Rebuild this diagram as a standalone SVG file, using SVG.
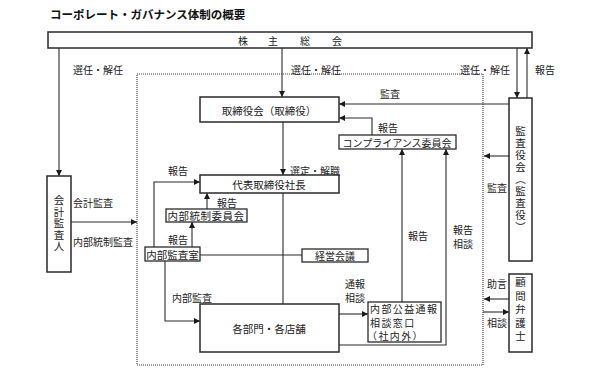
<svg xmlns="http://www.w3.org/2000/svg" width="598" height="379" viewBox="0 0 598 379">
<style>
text{font-family:"Noto Sans CJK JP","Noto Sans CJK SC",sans-serif;font-size:10px;fill:#222;dominant-baseline:central}
.title{font-size:11.5px;font-weight:bold;fill:#111}
.box{fill:#fff;stroke:#2a2a2a;stroke-width:1.5}
.sbox{fill:#fff;stroke:#2a2a2a;stroke-width:1.3}
.c{fill:none;stroke:#2a2a2a;stroke-width:1.1}
.a{marker-end:url(#ah)}
.dot{fill:none;stroke:#444;stroke-width:1.2;stroke-dasharray:1 1}
.m{text-anchor:middle}
.in{font-size:10.5px}
.v{writing-mode:vertical-rl;text-anchor:middle;font-size:10.5px}
</style>
<defs>
<marker id="ah" viewBox="0 0 10 10" refX="10" refY="5" markerWidth="7" markerHeight="6" orient="auto" markerUnits="userSpaceOnUse">
<path d="M0,0 L10,5 L0,10 z" fill="#1a1a1a"/>
</marker>
</defs>
<rect width="598" height="379" fill="#fff"/>
<text class="title" x="50" y="14">コーポレート・ガバナンス体制の概要</text>

<rect class="dot" x="137" y="74" width="346" height="291"/>

<g id="connectors">
<path class="c a" d="M59,48 V176"/>
<path class="c a" d="M282,48 V97"/>
<path class="c a" d="M517,48 V98"/>
<path class="c a" d="M527,98 V48"/>
<path class="c a" d="M509,104 H339"/>
<path class="c a" d="M372,135 V118 H339"/>
<path class="c a" d="M283,122 V175"/>
<path class="c" d="M283,193 V304"/>
<path class="c a" d="M207,209 V193"/>
<path class="c a" d="M192,247 V222"/>
<path class="c a" d="M154,247 V182 H200"/>
<path class="c" d="M200,255 H302"/>
<path class="c a" d="M165,261 V321 H200"/>
<path class="c a" d="M339,314 H368"/>
<path class="c a" d="M402,302 V149"/>
<path class="c a" d="M339,345 H446 V149"/>
<path class="c a" d="M71,222 H137"/>
<path class="c a" d="M509,156 H484"/>
<path class="c a" d="M509,299 H484"/>
<path class="c a" d="M483,312 H509"/>
<text x="73" y="69">選任・解任</text>
<text x="291" y="69">選任・解任</text>
<text x="460" y="69">選任・解任</text>
<text x="535" y="69">報告</text>
<text class="m" x="390" y="93">監査</text>
<text x="378" y="127">報告</text>
<text x="290" y="170">選定・解職</text>
<text x="168" y="170">報告</text>
<text x="217" y="202">報告</text>
<text x="168" y="239.5">報告</text>
<text x="73" y="202">会計監査</text>
<text x="73" y="241">内部統制監査</text>
<text x="172" y="297">内部監査</text>
<text x="345" y="283">通報<tspan x="345" y="297">相談</tspan></text>
<text x="408" y="235">報告</text>
<text x="453" y="229">報告<tspan x="453" y="243">相談</tspan></text>
<text x="487" y="187">監査</text>
<text x="487" y="283">助言</text>
<text x="487" y="322">相談</text>
</g>

<g id="shareholders">
<rect class="box" x="48" y="32" width="484" height="16"/>
<text class="m" x="243 273 305 337" y="40">株主総会</text>
</g>

<g id="accounting-auditor">
<rect class="box" x="47" y="176" width="24" height="96"/>
<text class="v" x="59" y="224" letter-spacing="1">会計監査人</text>
</g>

<g id="board">
<rect class="box" x="200" y="97" width="139" height="25"/>
<text class="m in" x="269" y="110">取締役会（取締役）</text>
</g>

<g id="compliance">
<rect class="sbox" x="339" y="135" width="117" height="14"/>
<text class="m" x="397" y="142">コンプライアンス委員会</text>
</g>

<g id="president">
<rect class="box" x="200" y="175" width="139" height="18"/>
<text class="m in" x="269" y="184">代表取締役社長</text>
</g>

<g id="internal-control-committee">
<rect class="sbox" x="166" y="209" width="81" height="13"/>
<text class="m in" x="206" y="215.5" letter-spacing="0.5">内部統制委員会</text>
</g>

<g id="internal-audit-office">
<rect class="sbox" x="145" y="247" width="55" height="14"/>
<text class="m in" x="172.5" y="254.5">内部監査室</text>
</g>

<g id="management-meeting">
<rect class="sbox" x="302" y="249" width="66" height="13"/>
<text class="m" x="335" y="255.5">経営会議</text>
</g>

<g id="departments">
<rect class="box" x="200" y="304" width="139" height="48"/>
<text class="m in" x="269" y="328">各部門・各店舗</text>
</g>

<g id="whistleblowing">
<rect class="sbox" x="368" y="302" width="73" height="40"/>
<text x="370" y="308.3" font-size="9" letter-spacing="1.4">内部公益通報<tspan x="370" y="321.8">相談窓口</tspan><tspan x="367" y="335.3">（社内外）</tspan></text>
</g>

<g id="audit-board">
<rect class="box" x="509" y="98" width="23" height="163"/>
<text class="v" x="520.5" y="180" letter-spacing="1.5">監査役会（監査役）</text>
</g>

<g id="legal-advisor">
<rect class="box" x="509" y="274" width="23" height="78"/>
<text class="v" x="520.5" y="311" letter-spacing="3">顧問弁護士</text>
</g>
</svg>
